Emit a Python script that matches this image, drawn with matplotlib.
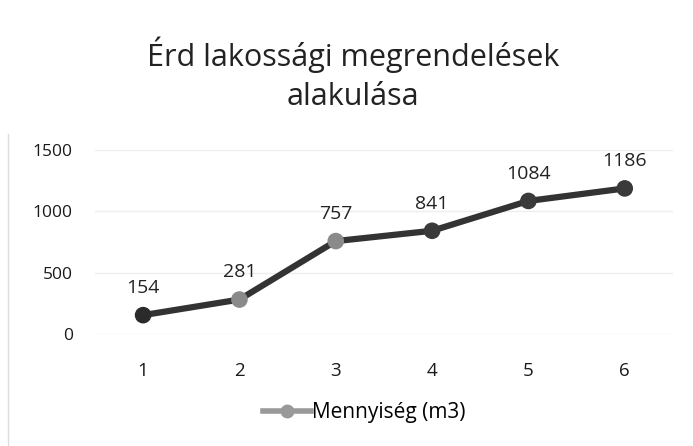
import matplotlib.pyplot as plt
from matplotlib.lines import Line2D

# data
honap = [1, 2, 3, 4, 5, 6]
mennyiseg = [154, 281, 757, 841, 1084, 1186]
y_ticks = [0, 500, 1000, 1500]
marker_colors = ['#2b2b2b', '#8a8a8a', '#8a8a8a', '#3a3a3a', '#3a3a3a', '#3a3a3a']

plt.rcParams['font.family'] = ['Open Sans', 'DejaVu Sans']

fig = plt.figure(figsize=(6.93, 4.46), dpi=100)
ax = fig.add_axes([0.137, 0.251, 0.834, 0.413])

ax.plot(honap, mennyiseg, color='#333333', lw=4.5, solid_capstyle='round', zorder=3)
ax.scatter(honap, mennyiseg, s=120, c=marker_colors, zorder=4)

for x, y in zip(honap, mennyiseg):
    ax.annotate(str(y), (x, y), xytext=(0, 13), textcoords='offset points',
                ha='center', va='bottom', fontsize=14, color='#222222')

ax.set_xlim(0.5, 6.5)
ax.set_ylim(0, 1500)
ax.set_xticks(honap)
ax.set_yticks(y_ticks)
ax.tick_params(axis='x', length=0, labelsize=13.5, colors='#1a1a1a', pad=20)
ax.tick_params(axis='y', length=0, labelsize=12.5, colors='#1a1a1a', pad=16)
ax.grid(axis='y', color='#eeeeee', lw=1)
ax.set_axisbelow(True)
for s in ax.spines.values():
    s.set_visible(False)

fig.text(0.51, 0.878, 'Érd lakossági megrendelések', ha='center', va='center',
         fontsize=22, color='#222222')
fig.text(0.51, 0.782, 'alakulása', ha='center', va='center',
         fontsize=22, color='#222222')

handle = Line2D([], [], color='#999999', lw=4, marker='o', markersize=9,
                markerfacecolor='#999999', markeredgecolor='#999999')
fig.legend([handle], ['Mennyiség (m3)'], loc='center', bbox_to_anchor=(0.525, 0.075),
           frameon=False, fontsize=15, handlelength=2.3, handletextpad=0.05)

# faint scan border on the left
fig.add_artist(Line2D([0.012, 0.012], [0.0, 0.7], color='#dddddd', lw=1))

fig.savefig('out.png', dpi=100, facecolor='white')
